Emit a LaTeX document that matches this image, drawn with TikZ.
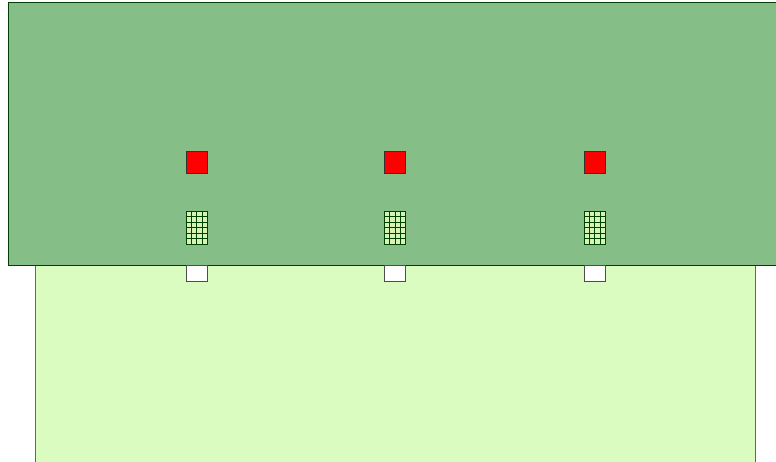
\documentclass[tikz,border=0pt]{standalone}
\usepackage{xcolor}
\usetikzlibrary{positioning,calc}

\definecolor{roofgreen}{RGB}{133,191,135}
\definecolor{wallgreen}{RGB}{218,252,192}
\definecolor{cellgreen}{RGB}{214,245,180}

\begin{document}
\begin{tikzpicture}[
  x=1pt, y=-1pt,
  roof/.style={draw=black!75!green, line width=0.8pt, fill=roofgreen},
  wall/.style={draw=black!60, line width=0.8pt, fill=wallgreen},
  lamp/.style={draw=black!80, line width=0.7pt, fill=red, minimum width=21pt,
               minimum height=22pt, inner sep=0pt},
  vent/.style={draw=black!75!green, line width=0.7pt, fill=cellgreen, minimum width=21pt,
               minimum height=33pt, inner sep=0pt},
  door/.style={draw=black!70, line width=0.7pt, fill=white, minimum width=21pt,
               minimum height=16pt, inner sep=0pt}
]

\useasboundingbox (0,0) rectangle (776,462);
\clip (0,0) rectangle (776,462);

% ---- Row positions ----
\def\yR{162}     % red row
\def\yV{227.5}   % vent row
\def\yD{273}     % door row

% ---- Lower block ----
\draw[wall] (35.5,265) rectangle (755.5,470);

% ---- Upper block ----
\draw[roof] (8,2) rectangle (785,265);

% ---- Three columns of parts ----
\foreach \n/\x in {1/196.5, 2/395, 3/594.5}{
  \node[lamp] (lamp\n) at (\x,\yR) {};
  \node[vent] (vent\n) at (\x,\yV) {};
  \node[door] (door\n) at (\x,\yD) {};
  % grid inside the vent
  \foreach \i in {1,2,3}{
    \draw[black!75!green, line width=0.6pt]
      ($(vent\n.north west)!\i/4!(vent\n.north east)$) --
      ($(vent\n.south west)!\i/4!(vent\n.south east)$);
  }
  \foreach \j in {1,...,5}{
    \draw[black!75!green, line width=0.6pt]
      ($(vent\n.north west)!\j/6!(vent\n.south west)$) --
      ($(vent\n.north east)!\j/6!(vent\n.south east)$);
  }
}

\end{tikzpicture}
\end{document}
